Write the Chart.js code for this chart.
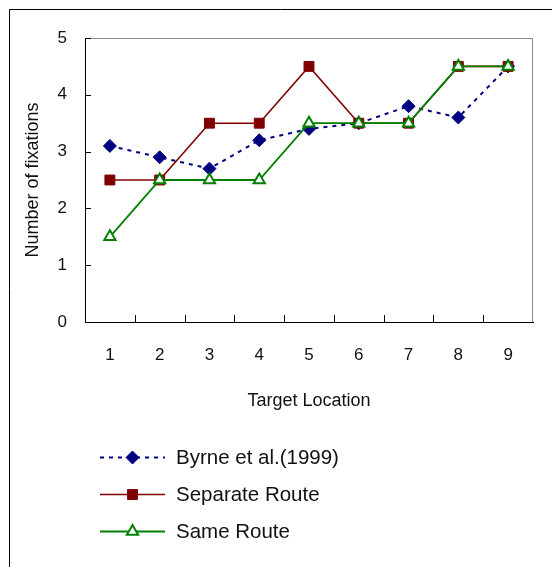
<!DOCTYPE html>
<html>
<head>
<meta charset="utf-8">
<script src="https://cdn.jsdelivr.net/npm/chart.js@4/dist/chart.umd.min.js"></script>
<style>
  html, body { margin: 0; padding: 0; background: #fff; }
  #wrap { width: 552px; height: 567px; }
</style>
</head>
<body>
<div id="wrap"><canvas id="myChart" width="552" height="567"></canvas></div>
<script>
const locations = ['1', '2', '3', '4', '5', '6', '7', '8', '9']
const byrne = [3.1, 2.9, 2.7, 3.2, 3.4, 3.5, 3.8, 3.6, 4.5]
const separateRoute = [2.5, 2.5, 3.5, 3.5, 4.5, 3.5, 3.5, 4.5, 4.5]
const sameRoute = [1.5, 2.5, 2.5, 2.5, 3.5, 3.5, 3.5, 4.5, 4.5]
const seriesNames = ['Byrne et al.(1999)', 'Separate Route', 'Same Route']

const FONT = '"Liberation Sans", Arial, sans-serif'

// outer frame + grey plot border (axes draw their own black lines on top)
const frame = {
    id: 'frame',
    beforeDraw(chart) {
        const c = chart.ctx, a = chart.chartArea
        c.save()
        c.strokeStyle = '#000'
        c.lineWidth = 1
        c.beginPath()
        c.moveTo(9.5, chart.height)
        c.lineTo(9.5, 9.5)
        c.lineTo(chart.width, 9.5)
        c.stroke()
        c.strokeStyle = '#8c8c8c'
        c.strokeRect(a.left + 0.5, a.top + 0.5, a.right - a.left - 1, a.bottom - a.top)
        c.restore()
    }
}

// excel style tick marks pointing into the plot
const innerTicks = {
    id: 'innerTicks',
    beforeDatasetsDraw(chart) {
        const c = chart.ctx, a = chart.chartArea
        const x = chart.scales.x, y = chart.scales.y
        c.save()
        c.strokeStyle = '#000'
        c.lineWidth = 1
        c.beginPath()
        for (let i = 1; i < locations.length; i++) {
            const px = Math.round((x.getPixelForValue(i - 1) + x.getPixelForValue(i)) / 2) + 0.5
            c.moveTo(px, a.bottom)
            c.lineTo(px, a.bottom - 7)
        }
        y.ticks.forEach(t => {
            const py = Math.round(y.getPixelForValue(t.value)) + 0.5
            c.moveTo(a.left, py)
            c.lineTo(a.left + 6, py)
        })
        c.stroke()
        c.restore()
    }
}

// legend stacked under the axis title
const stackedLegend = {
    id: 'stackedLegend',
    afterDraw(chart) {
        const c = chart.ctx
        const x0 = 100, x1 = 165, tx = 176
        let ry = chart.chartArea.bottom + 135
        c.save()
        chart.data.datasets.forEach(ds => {
            c.strokeStyle = ds.borderColor
            c.lineWidth = ds.borderWidth
            c.setLineDash(ds.borderDash || [])
            c.beginPath()
            c.moveTo(x0, ry + 0.5)
            c.lineTo(x1, ry + 0.5)
            c.stroke()
            c.setLineDash([])
            c.fillStyle = ds.pointBackgroundColor
            c.strokeStyle = ds.pointBorderColor
            c.lineWidth = ds.pointBorderWidth
            Chart.helpers.drawPoint(c, { pointStyle: ds.pointStyle, radius: ds.pointRadius, borderWidth: ds.pointBorderWidth, rotation: 0 }, (x0 + x1) / 2, ry + 0.5)
            c.fillStyle = '#111'
            c.font = '20.5px ' + FONT
            c.textBaseline = 'middle'
            c.textAlign = 'left'
            c.fillText(ds.label, tx, ry + 1)
            ry += 37
        })
        c.restore()
    }
}

const ctx = document.getElementById('myChart').getContext('2d')
const chart = new Chart(ctx, {
    type: 'line',
    data: {
        labels: locations,
        datasets: [{
            label: seriesNames[0],
            data: byrne,
            borderColor: '#000080',
            borderWidth: 2,
            borderDash: [4, 5],
            pointStyle: 'rectRot',
            pointRadius: 6.5,
            pointBackgroundColor: '#000080',
            pointBorderColor: '#000080',
            pointBorderWidth: 1,
            order: 3
        }, {
            label: seriesNames[1],
            data: separateRoute,
            borderColor: '#800000',
            borderWidth: 1.6,
            pointStyle: 'rect',
            pointRadius: 7,
            pointBackgroundColor: '#800000',
            pointBorderColor: '#800000',
            pointBorderWidth: 1,
            order: 2
        }, {
            label: seriesNames[2],
            data: sameRoute,
            borderColor: '#008000',
            borderWidth: 1.8,
            pointStyle: 'triangle',
            pointRadius: 6.5,
            pointBackgroundColor: '#ffffff',
            pointBorderColor: '#008000',
            pointBorderWidth: 2,
            order: 1
        }]
    },
    options: {
        responsive: false,
        animation: false,
        events: [],
        layout: {
            padding: { top: 38, right: 19, bottom: 155, left: 10 }
        },
        elements: { line: { tension: 0 } },
        scales: {
            x: {
                offset: true,
                grid: { offset: true, drawOnChartArea: false, drawTicks: false },
                border: { color: '#000', width: 1 },
                ticks: { color: '#111', font: { family: FONT, size: 17 }, padding: 23 },
                title: { display: true, text: 'Target Location', color: '#111', font: { family: FONT, size: 18 }, padding: 0 },
                afterFit(s) { s.height = 90 }
            },
            y: {
                min: 0,
                max: 5,
                grid: { drawOnChartArea: false, drawTicks: false },
                border: { color: '#000', width: 1 },
                ticks: { stepSize: 1, color: '#111', font: { family: FONT, size: 17 }, padding: 18 },
                title: { display: true, text: 'Number of fixations', color: '#111', font: { family: FONT, size: 18 }, padding: { top: 12, bottom: 0 } },
                afterFit(s) { s.width = 75 }
            }
        },
        plugins: {
            legend: { display: false },
            tooltip: { enabled: false }
        }
    },
    plugins: [frame, innerTicks, stackedLegend]
})
</script>
</body>
</html>
